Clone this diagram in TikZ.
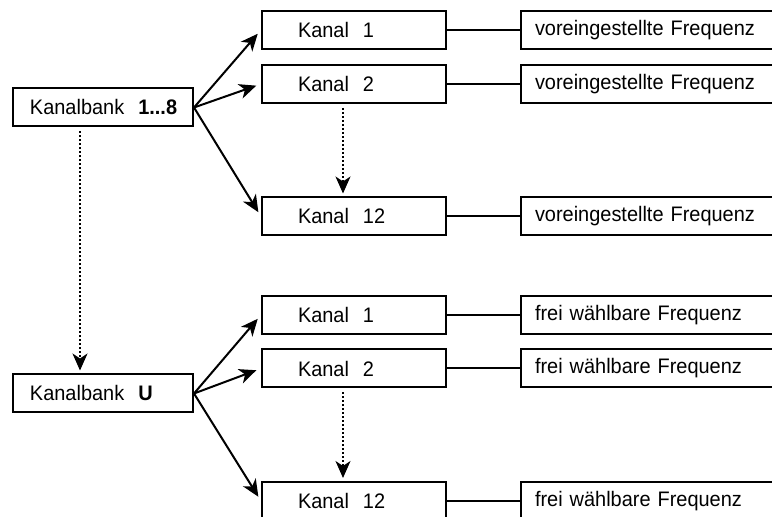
\documentclass[tikz,border=0pt]{standalone}
\usepackage{fontspec}
\setmainfont{Liberation Sans}[FakeStretch=0.95]
\usetikzlibrary{arrows.meta}

\begin{document}
\begin{tikzpicture}[x=0.5pt,y=-0.5pt,
		every node/.style={font=\fontsize{10.5}{12}\selectfont},
		box/.style={draw,line width=1pt,minimum height=19pt,inner ysep=0pt,inner xsep=0pt,align=left},
		bankbox/.style={box,text width=90pt,execute at begin node={\hspace*{8.5pt}}},
		kanalbox/.style={box,text width=92pt,execute at begin node={\hspace*{18pt}}},
		freqbox/.style={box,text width=130pt,execute at begin node={\hspace*{7pt}}},
		pfeil/.style={line width=1pt,-{Stealth[length=8.5pt,width=7.5pt,inset=2.5pt]},shorten >=2.5pt},
		punkte/.style={pfeil,dash pattern=on 1pt off 1pt,shorten <=2pt,shorten >=1.5pt},
		linie/.style={line width=1pt}]
	\useasboundingbox (0,0) rectangle (772,517);
	\clip (0,0) rectangle (772,517);

	% Kanalbank 1...8
	\node[bankbox] (bank18) at (103,107.5) {Kanalbank\ \ \textbf{1...8}};
	\node[kanalbox] (ka1) at (354,30) {Kanal\ \ 1};
	\node[kanalbox] (ka2) at (354,84) {Kanal\ \ 2};
	\node[kanalbox] (ka12) at (354,216.5) {Kanal\ \ 12};
	\node[freqbox] (fa1) at (651,30) {voreingestellte Frequenz};
	\node[freqbox] (fa2) at (651,84) {voreingestellte Frequenz};
	\node[freqbox] (fa12) at (651,216.5) {voreingestellte Frequenz};

	% Kanalbank U
	\node[bankbox] (bankU) at (103,393.5) {Kanalbank\ \ \textbf{U}};
	\node[kanalbox] (kb1) at (354,315) {Kanal\ \ 1};
	\node[kanalbox] (kb2) at (354,368.5) {Kanal\ \ 2};
	\node[kanalbox] (kb12) at (354,501) {Kanal\ \ 12};
	\node[freqbox] (fb1) at (651,315) {frei wählbare Frequenz};
	\node[freqbox] (fb2) at (651,368.5) {frei wählbare Frequenz};
	\node[freqbox] (fb12) at (651,501) {frei wählbare Frequenz};

	\draw[pfeil] (bank18.east) -- (ka1.west);
	\draw[pfeil] (bank18.east) -- (ka2.west);
	\draw[pfeil] (bank18.east) -- (ka12.west);
	\draw[pfeil] (bankU.east) -- (kb1.west);
	\draw[pfeil] (bankU.east) -- (kb2.west);
	\draw[pfeil] (bankU.east) -- (kb12.west);

	\draw[linie] (ka1.east) -- (fa1.west);
	\draw[linie] (ka2.east) -- (fa2.west);
	\draw[linie] (ka12.east) -- (fa12.west);
	\draw[linie] (kb1.east) -- (fb1.west);
	\draw[linie] (kb2.east) -- (fb2.west);
	\draw[linie] (kb12.east) -- (fb12.west);

	% gepunktete Pfeile
	\draw[punkte] ([xshift=-5.5pt]ka2.south) -- ([xshift=-5.5pt]ka12.north);
	\draw[punkte] ([xshift=-5.5pt]kb2.south) -- ([xshift=-5.5pt]kb12.north);
	\draw[punkte] ([xshift=-11.5pt]bank18.south) -- ([xshift=-11.5pt]bankU.north);
\end{tikzpicture}
\end{document}
